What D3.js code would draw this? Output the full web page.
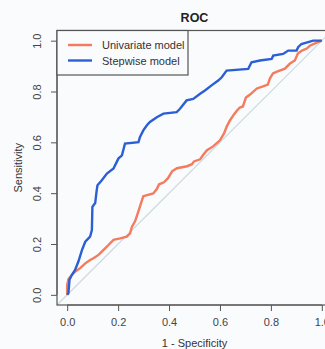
<!DOCTYPE html>
<html>
<head>
<meta charset="utf-8">
<script src="https://cdn.jsdelivr.net/npm/d3@7/dist/d3.min.js"></script>
<style>
  html, body { margin: 0; padding: 0; background: #fafbfd; }
  svg { display: block; font-family: "Liberation Sans", Arial, sans-serif; }
  .axis path, .axis line { stroke: #555; }
  .axis text { fill: #444; font-size: 11px; }
</style>
</head>
<body>
<div id="roc"></div>
<script>
// ROC points: 1 - specificity (fpr) / sensitivity (tpr)
const univariateFpr = [0, 0, 0.005, 0.018, 0.031, 0.051, 0.071, 0.090, 0.103, 0.123, 0.142, 0.162, 0.182, 0.208, 0.234, 0.247, 0.254, 0.267, 0.280, 0.290, 0.299, 0.338, 0.352, 0.361, 0.380, 0.396, 0.412, 0.431, 0.471, 0.490, 0.498, 0.522, 0.533, 0.549, 0.573, 0.600, 0.616, 0.627, 0.639, 0.655, 0.667, 0.678, 0.690, 0.702, 0.718, 0.745, 0.769, 0.788, 0.796, 0.808, 0.824, 0.855, 0.875, 0.894, 0.906, 0.922, 0.941, 0.953, 0.980, 1];
const univariateTpr = [0, 0.039, 0.062, 0.078, 0.091, 0.105, 0.124, 0.137, 0.144, 0.157, 0.176, 0.196, 0.216, 0.222, 0.229, 0.242, 0.267, 0.290, 0.329, 0.361, 0.388, 0.399, 0.416, 0.435, 0.443, 0.459, 0.486, 0.498, 0.506, 0.514, 0.525, 0.533, 0.549, 0.569, 0.584, 0.608, 0.635, 0.663, 0.686, 0.710, 0.725, 0.737, 0.741, 0.776, 0.788, 0.812, 0.820, 0.827, 0.851, 0.871, 0.878, 0.890, 0.910, 0.922, 0.949, 0.961, 0.969, 0.980, 0.992, 1];

const stepwiseFpr = [0, 0.005, 0.009, 0.018, 0.031, 0.044, 0.058, 0.071, 0.090, 0.097, 0.099, 0.110, 0.116, 0.119, 0.136, 0.156, 0.182, 0.201, 0.215, 0.227, 0.280, 0.286, 0.299, 0.313, 0.325, 0.352, 0.378, 0.430, 0.443, 0.469, 0.495, 0.522, 0.541, 0.567, 0.593, 0.607, 0.626, 0.711, 0.724, 0.757, 0.803, 0.809, 0.848, 0.868, 0.901, 0.907, 0.920, 0.966, 1];
const stepwiseTpr = [0, 0.007, 0.059, 0.078, 0.098, 0.131, 0.176, 0.209, 0.229, 0.255, 0.346, 0.361, 0.412, 0.431, 0.451, 0.477, 0.497, 0.536, 0.549, 0.595, 0.601, 0.621, 0.647, 0.667, 0.680, 0.699, 0.713, 0.719, 0.732, 0.765, 0.771, 0.791, 0.804, 0.824, 0.843, 0.856, 0.882, 0.889, 0.915, 0.922, 0.928, 0.941, 0.948, 0.961, 0.961, 0.974, 0.987, 1, 1];

const tickValues = [0, 0.2, 0.4, 0.6, 0.8, 1];
const seriesNames = ["Univariate model", "Stepwise model"];
const seriesColors = ["#f47b5e", "#2b5fd4"];

const width = 325, height = 349;
const margin = {top: 30.5, right: -7, bottom: 44, left: 57};
const plotW = width - margin.left - margin.right;
const plotH = height - margin.top - margin.bottom;

// R style scales, 4% padding on each side
const x = d3.scaleLinear().domain([-0.04, 1.04]).range([0, plotW]);
const y = d3.scaleLinear().domain([-0.04, 1.04]).range([plotH, 0]);

const svg = d3.select("#roc")
  .append("svg")
  .attr("width", width)
  .attr("height", height);

const g = svg.append("g")
  .attr("transform", "translate(" + margin.left + "," + margin.top + ")");

// title
svg.append("text")
  .attr("x", margin.left + plotW / 2)
  .attr("y", 21.5)
  .attr("text-anchor", "middle")
  .style("font-weight", "bold")
  .style("font-size", "12.5px")
  .style("fill", "#222")
  .text("ROC");

// diagonal reference line (abline)
g.append("line")
  .attr("x1", x(-0.04)).attr("y1", y(-0.04))
  .attr("x2", x(1.04)).attr("y2", y(1.04))
  .style("stroke", "#c8dae2")
  .style("stroke-width", 1.2);

const line = d3.line()
  .x(d => x(d[0]))
  .y(d => y(d[1]));

const series = [
  d3.zip(univariateFpr, univariateTpr),
  d3.zip(stepwiseFpr, stepwiseTpr)
];

series.forEach((pts, i) => {
  g.append("path")
    .datum(pts)
    .attr("d", line)
    .style("fill", "none")
    .style("stroke", seriesColors[i])
    .style("stroke-width", 2.4)
    .style("stroke-linejoin", "miter");
});

// axes (line only over 0..1, like R)
const xAxis = g.append("g")
  .attr("class", "axis")
  .attr("transform", "translate(0," + plotH + ")")
  .call(d3.axisBottom(x).tickValues(tickValues).tickFormat(d3.format(".1f")).tickSizeOuter(0).tickSize(6).tickPadding(7));
xAxis.select(".domain").attr("d", "M" + x(0) + ",0H" + x(1));

const yAxis = g.append("g")
  .attr("class", "axis")
  .call(d3.axisLeft(y).tickValues(tickValues).tickFormat(d3.format(".1f")).tickSizeOuter(0).tickSize(6));
yAxis.select(".domain").attr("d", "M0," + y(0) + "V" + y(1));
yAxis.selectAll(".tick text")
  .attr("x", 0).attr("dy", null)
  .attr("text-anchor", "middle")
  .attr("transform", "translate(-16,0) rotate(-90)");

// box
g.append("rect")
  .attr("width", plotW).attr("height", plotH)
  .style("fill", "none")
  .style("stroke", "#555")
  .style("stroke-width", 1.2);

// axis labels
svg.append("text")
  .attr("x", margin.left + plotW / 2)
  .attr("y", 347)
  .attr("text-anchor", "middle")
  .style("font-size", "11px")
  .style("fill", "#333")
  .text("1 - Specificity");

svg.append("text")
  .attr("transform", "translate(22," + (margin.top + plotH / 2) + ") rotate(-90)")
  .attr("text-anchor", "middle")
  .style("font-size", "11px")
  .style("fill", "#333")
  .text("Sensitivity");

// legend
const legend = g.append("g");
legend.append("rect")
  .attr("width", 131).attr("height", 44.5)
  .style("fill", "#fafbfd")
  .style("stroke", "#555")
  .style("stroke-width", 1.2);

seriesNames.forEach((name, i) => {
  const ly = 14.5 + i * 15.5;
  legend.append("line")
    .attr("x1", 11).attr("x2", 35)
    .attr("y1", ly).attr("y2", ly)
    .style("stroke", seriesColors[i])
    .style("stroke-width", 2.4);
  legend.append("text")
    .attr("x", 45).attr("y", ly + 4)
    .style("font-size", "11px")
    .style("fill", "#333")
    .text(name);
});
</script>
</body>
</html>
